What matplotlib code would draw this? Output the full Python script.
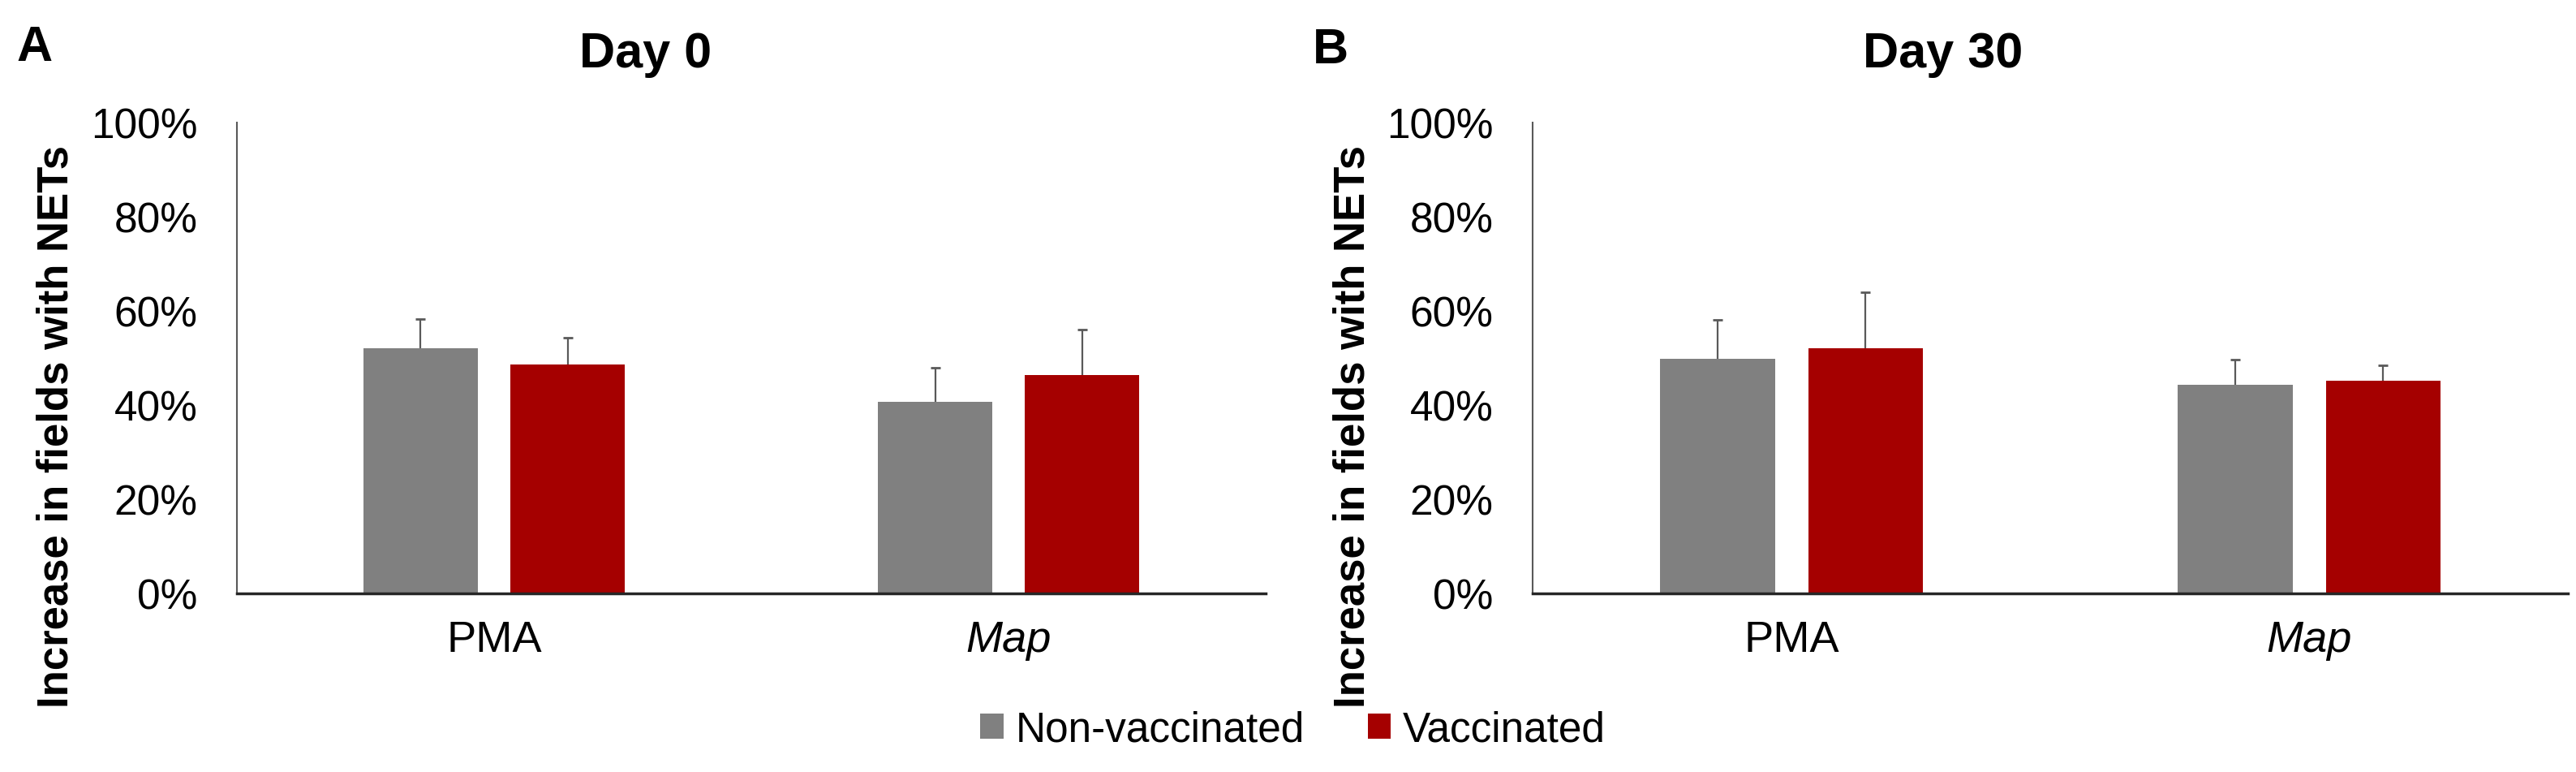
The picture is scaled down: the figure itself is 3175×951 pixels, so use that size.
#! /usr/bin/env python3

import numpy as np
import matplotlib
matplotlib.use("Agg")
import matplotlib.pyplot as plt
from matplotlib.patches import Patch
from matplotlib.ticker import PercentFormatter

plt.rcParams["font.family"] = ["Liberation Sans", "DejaVu Sans"]

groups = ["PMA", "Map"]
series = ["Non-vaccinated", "Vaccinated"]
panel_titles = ["Day 0", "Day 30"]
panel_letters = ["A", "B"]
ylabel = "Increase in fields with NETs"

# % increase (upper error only)
day0_non = [52.1, 40.7]
day0_non_err = [6.2, 7.3]
day0_vac = [48.7, 46.3]
day0_vac_err = [5.7, 9.7]

day30_non = [49.9, 44.3]
day30_non_err = [8.2, 5.4]
day30_vac = [52.1, 45.1]
day30_vac_err = [11.9, 3.4]

colors = ["#808080", "#A50000"]

fig = plt.figure(figsize=(31.75, 9.51), dpi=100)
axA = fig.add_axes([0.0920, 0.2313, 0.3994, 0.6099])
axB = fig.add_axes([0.5950, 0.2313, 0.4019, 0.6099])

data = [
    (day0_non, day0_non_err, day0_vac, day0_vac_err),
    (day30_non, day30_non_err, day30_vac, day30_vac_err),
]

x = np.arange(len(groups))
w = 0.222
off = 0.143

for ax, (non, non_e, vac, vac_e) in zip([axA, axB], data):
    for vals, errs, c, sgn in [(non, non_e, colors[0], -1), (vac, vac_e, colors[1], 1)]:
        ax.bar(x + sgn * off, vals, width=w, color=c, zorder=2)
        eb = ax.errorbar(x + sgn * off, vals, yerr=[np.zeros(len(errs)), errs],
                         fmt="none", ecolor="#595959", elinewidth=1.6,
                         capsize=4, capthick=2, zorder=1)
        # drop the cap at the bar top, keep only the upper one
        caps = eb.lines[1]
        if len(caps) > 1:
            caps[0].set_visible(False)
    ax.set_xlim(-0.5, 1.5)
    ax.set_ylim(0, 100)
    ax.set_yticks(np.arange(0, 101, 20))
    ax.yaxis.set_major_formatter(PercentFormatter(xmax=100, decimals=0))
    ax.set_xticks(x)
    ax.set_xticklabels(groups)
    ax.get_xticklabels()[1].set_fontstyle("italic")
    ax.tick_params(axis="y", length=0, pad=35, labelsize=37)
    ax.tick_params(axis="x", length=0, pad=24, labelsize=39)
    for s in ["top", "right"]:
        ax.spines[s].set_visible(False)
    ax.spines["left"].set_color("#595959")
    ax.spines["left"].set_linewidth(1.5)
    ax.spines["bottom"].set_color("#262626")
    ax.spines["bottom"].set_linewidth(2.5)
    ax.spines["bottom"].set_zorder(3)

# titles, panel letters, y labels
fig.text(0.2507, 0.9127, panel_titles[0], fontsize=44, fontweight="bold", ha="center", va="baseline")
fig.text(0.7543, 0.9127, panel_titles[1], fontsize=44, fontweight="bold", ha="center", va="baseline")
fig.text(0.0063, 0.921, panel_letters[0], fontsize=44, fontweight="bold", ha="left", va="baseline")
fig.text(0.5096, 0.918, panel_letters[1], fontsize=44, fontweight="bold", ha="left", va="baseline")
fig.text(70 / 3175, 0.447, ylabel, fontsize=38, fontweight="bold", rotation=90, ha="center", va="center")
fig.text(1668 / 3175, 0.447, ylabel, fontsize=38, fontweight="bold", rotation=90, ha="center", va="center")

handles = [Patch(facecolor=c, label=l) for c, l in zip(colors, series)]
fig.legend(handles=handles, loc="center", bbox_to_anchor=(0.502, 0.054), ncol=2,
           frameon=False, fontsize=37, handlelength=0.55, handleheight=0.55,
           handletextpad=0.3, columnspacing=1.5)

fig.savefig("out.png", dpi=100)
